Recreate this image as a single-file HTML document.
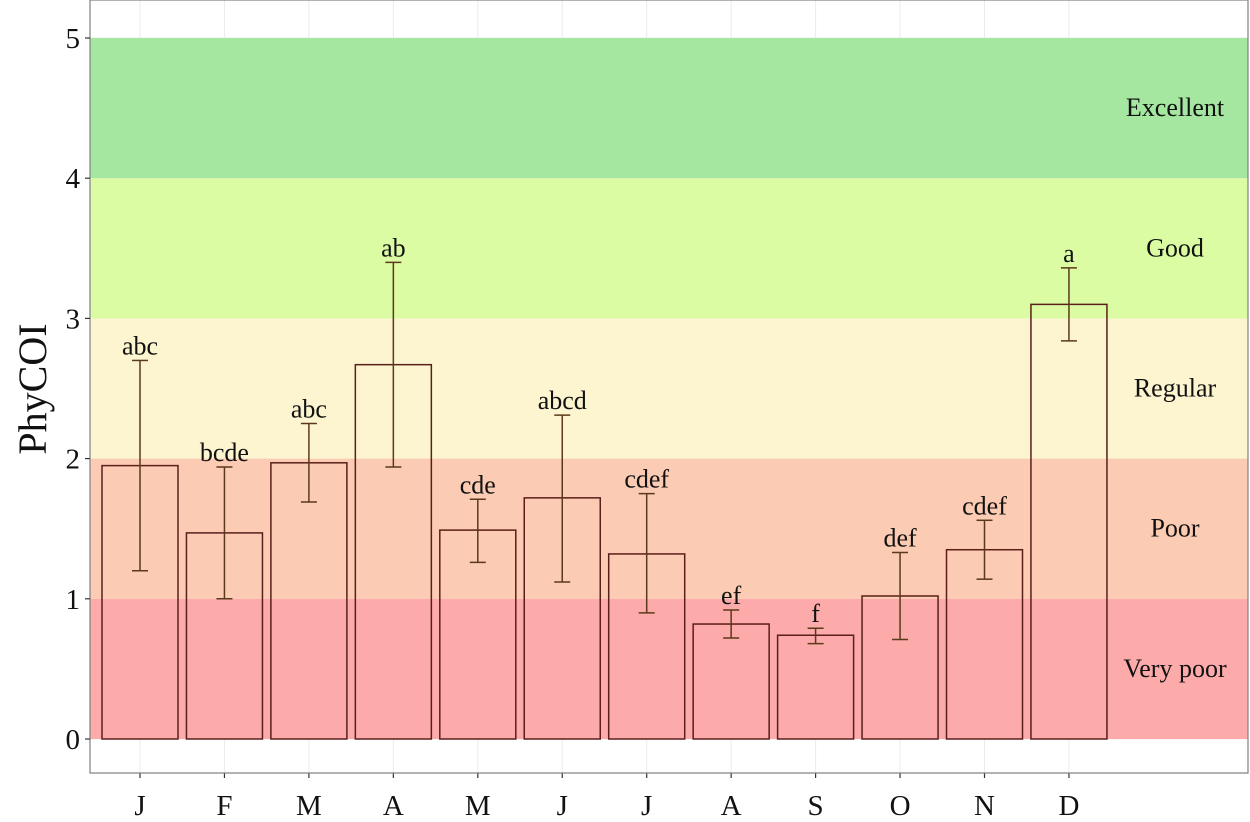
<!DOCTYPE html>
<html><head><meta charset="utf-8"><style>
body{margin:0;background:#fff}
svg{display:block;font-family:"Liberation Serif",serif}
</style></head><body>
<svg id="chart" width="1250" height="822"></svg>
<script>
const categories=["J","F","M","A","M","J","J","A","S","O","N","D"];
const values=[1.95,1.47,1.97,2.67,1.49,1.72,1.32,0.82,0.74,1.02,1.35,3.10];
const errLow=[1.20,1.00,1.69,1.94,1.26,1.12,0.90,0.72,0.68,0.71,1.14,2.84];
const errHigh=[2.70,1.94,2.25,3.40,1.71,2.31,1.75,0.92,0.79,1.33,1.56,3.36];
const groupLetters=["abc","bcde","abc","ab","cde","abcd","cdef","ef","f","def","cdef","a"];
const bandLow=[0,1,2,3,4];
const bandHigh=[1,2,3,4,5];
const bandNames=["Very poor","Poor","Regular","Good","Excellent"];
const bandColors=["#fdaaab","#fccbb3","#fdf5d0","#dcfca4","#a5e7a0"];
const yTicks=[0,1,2,3,4,5];

const NS="http://www.w3.org/2000/svg";
const svg=document.getElementById('chart');
const L=90,R=1248,T=0,B=773;
const y=v=>739-v*140.2;
const x=i=>140+i*84.45;
const bw=76;
function mk(tag,attrs,parent){const e=document.createElementNS(NS,tag);for(const k in attrs)e.setAttribute(k,attrs[k]);(parent||svg).appendChild(e);return e;}

yTicks.forEach(t=>{mk('line',{x1:L,x2:R,y1:y(t),y2:y(t),stroke:'#ebebeb','stroke-width':1});});
categories.forEach((c,i)=>{mk('line',{x1:x(i),x2:x(i),y1:T,y2:B,stroke:'#ebebeb','stroke-width':1});});
bandLow.forEach((lo,i)=>{
 const r=mk('rect',{x:L,y:y(bandHigh[i]),width:R-L,height:y(lo)-y(bandHigh[i]),fill:bandColors[i]});
 
 
 const t=mk('text',{x:1175,y:(y(lo)+y(bandHigh[i]))/2+8,'text-anchor':'middle','font-size':26,fill:'#111'});
 t.textContent=bandNames[i];
 
 
});
categories.forEach((c,i)=>{
 const b=mk('rect',{x:x(i)-bw/2,y:y(values[i]),width:bw,height:y(0)-y(values[i]),fill:'none',stroke:'#5a1f1a','stroke-width':1.5});
 
 
 const g=mk('g',{stroke:'#5a3a1a','stroke-width':1.5});
 
 
 mk('line',{x1:x(i),x2:x(i),y1:y(errLow[i]),y2:y(errHigh[i])},g);
 mk('line',{x1:x(i)-8,x2:x(i)+8,y1:y(errLow[i]),y2:y(errLow[i])},g);
 mk('line',{x1:x(i)-8,x2:x(i)+8,y1:y(errHigh[i]),y2:y(errHigh[i])},g);
 const t=mk('text',{x:x(i),y:y(errHigh[i])-6,'text-anchor':'middle','font-size':26,fill:'#111'});
 t.textContent=groupLetters[i];
 
 
 mk('line',{x1:x(i),x2:x(i),y1:B,y2:B+5,stroke:'#333','stroke-width':1.2});
 const xl=mk('text',{x:x(i),y:815,'text-anchor':'middle','font-size':29,fill:'#111'});
 xl.textContent=c;
 
 
});
const pb=mk('rect',{x:L,y:T,width:R-L,height:B-T,fill:'none',stroke:'#7f7f7f','stroke-width':1.2});


yTicks.forEach(t=>{
 mk('line',{x1:L-5,x2:L,y1:y(t),y2:y(t),stroke:'#333','stroke-width':1.2});
 const tl=mk('text',{x:L-10,y:y(t)+10,'text-anchor':'end','font-size':29,fill:'#111'});
 tl.textContent=t;
 
 
});
const yt=mk('text',{x:0,y:0,'text-anchor':'middle','font-size':40,fill:'#111',transform:'translate(46,389) rotate(-90)'});
yt.textContent='PhyCOI';


</script>
</body></html>
